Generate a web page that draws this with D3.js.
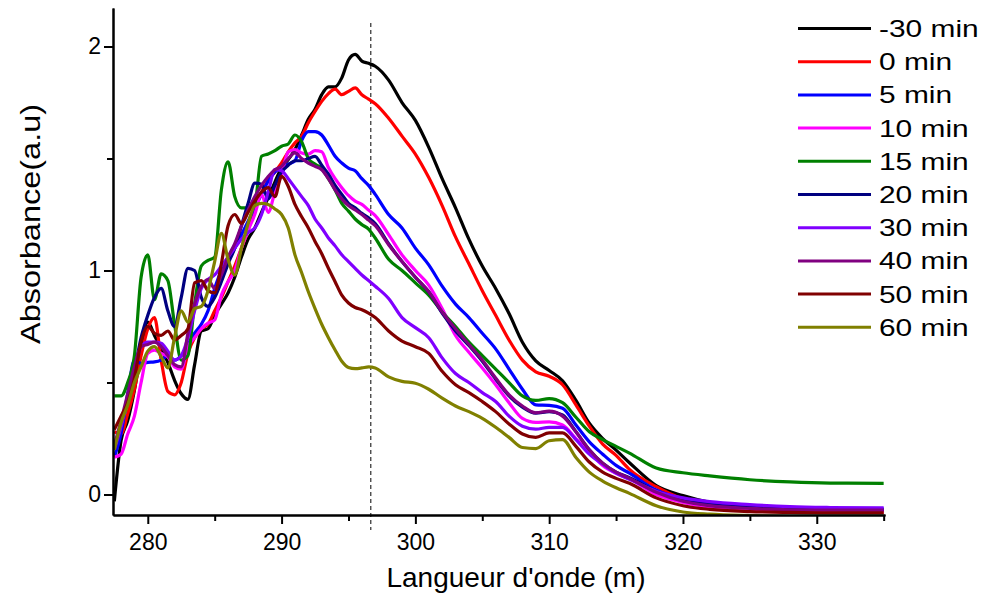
<!DOCTYPE html>
<html>
<head>
<meta charset="utf-8">
<script src="https://cdn.jsdelivr.net/npm/d3@7"></script>
<style>
  body { margin: 0; background: #fff; }
</style>
</head>
<body>
<div id="chart"></div>
<script>
// Wavelength grid (nm) shared by all spectra
var wavelengths = [
  277.5, 278, 278.5, 279, 279.5, 280, 280.5, 281, 281.5, 282, 282.5, 283, 283.5, 284, 284.5,
  285, 285.5, 286, 286.5, 287, 287.5, 288, 288.5, 289, 289.5, 290, 290.5, 291, 291.5, 292,
  292.5, 293, 293.5, 294, 294.5, 295, 295.5, 296, 296.5, 297,
  298, 299, 300, 301, 302, 303, 304, 305, 306, 307, 308, 309, 310, 311, 312, 313, 314, 315, 316,
  318, 320, 322, 325, 328, 331, 335
];

// Absorbance for each time
var absM30 = [
  -0.03, 0.24, 0.33, 0.465, 0.64, 0.77, 0.71, 0.65, 0.59, 0.51, 0.45, 0.425, 0.58, 0.73, 0.74,
  0.80, 0.85, 0.90, 0.97, 1.06, 1.14, 1.19, 1.26, 1.325, 1.395, 1.46, 1.495, 1.54, 1.605, 1.675,
  1.72, 1.785, 1.82, 1.82, 1.86, 1.94, 1.965, 1.935, 1.925, 1.912,
  1.85, 1.75, 1.67, 1.55, 1.41, 1.28, 1.14, 1.02, 0.92, 0.808, 0.68, 0.597, 0.554, 0.508, 0.42, 0.318, 0.25, 0.198, 0.142,
  0.04, -0.005, -0.035, -0.055, -0.063, -0.067, -0.068
];
var abs0 = [
  0.28, 0.27, 0.36, 0.47, 0.62, 0.74, 0.79, 0.60, 0.46, 0.445, 0.50, 0.63, 0.70, 0.74, 0.76,
  0.82, 0.88, 0.95, 1.02, 1.10, 1.18, 1.27, 1.35, 1.40, 1.44, 1.48, 1.53, 1.57, 1.60, 1.66,
  1.71, 1.755, 1.79, 1.81, 1.785, 1.80, 1.815, 1.785, 1.765, 1.745,
  1.68, 1.60, 1.52, 1.415, 1.29, 1.15, 1.03, 0.91, 0.80, 0.69, 0.60, 0.548, 0.528, 0.49, 0.40, 0.305, 0.225, 0.175, 0.112,
  0.035, -0.02, -0.05, -0.07, -0.078, -0.08, -0.08
];
var abs5 = [
  0.167, 0.27, 0.45, 0.60, 0.585, 0.59, 0.592, 0.60, 0.62, 0.60, 0.62, 0.67, 0.72, 0.76, 0.82,
  0.92, 1.00, 1.05, 1.10, 1.16, 1.22, 1.28, 1.34, 1.40, 1.44, 1.46, 1.475, 1.49, 1.58, 1.62,
  1.62, 1.605, 1.56, 1.51, 1.48, 1.457, 1.445, 1.41, 1.38, 1.34,
  1.25, 1.19, 1.10, 1.025, 0.93, 0.85, 0.79, 0.72, 0.65, 0.56, 0.47, 0.40, 0.398, 0.385, 0.31, 0.235, 0.18, 0.13, 0.095,
  0.02, -0.02, -0.04, -0.055, -0.06, -0.063, -0.064
];
var abs10 = [
  0.167, 0.18, 0.27, 0.35, 0.50, 0.63, 0.645, 0.63, 0.615, 0.57, 0.56, 0.66, 0.70, 0.74, 0.765,
  0.78, 0.89, 0.95, 1.00, 1.10, 1.18, 1.25, 1.34, 1.26, 1.35, 1.43, 1.53, 1.54, 1.525, 1.52,
  1.535, 1.53, 1.46, 1.41, 1.37, 1.335, 1.31, 1.295, 1.27, 1.245,
  1.16, 1.07, 1.00, 0.935, 0.83, 0.71, 0.635, 0.565, 0.49, 0.41, 0.34, 0.322, 0.324, 0.31, 0.25, 0.19, 0.13, 0.095, 0.07,
  0.0, -0.035, -0.055, -0.066, -0.071, -0.072, -0.072
];
var abs15 = [
  0.44, 0.44, 0.50, 0.62, 0.97, 1.07, 0.87, 0.985, 0.955, 0.76, 0.60, 0.62, 0.85, 1.02, 1.045,
  1.06, 1.36, 1.485, 1.33, 1.28, 1.28, 1.30, 1.51, 1.52, 1.535, 1.555, 1.565, 1.605, 1.575, 1.50,
  1.475, 1.455, 1.41, 1.36, 1.30, 1.265, 1.23, 1.205, 1.185, 1.145,
  1.05, 1.00, 0.945, 0.89, 0.815, 0.75, 0.68, 0.62, 0.56, 0.50, 0.44, 0.42, 0.428, 0.41, 0.345, 0.28, 0.245, 0.215, 0.185,
  0.118, 0.097, 0.083, 0.066, 0.056, 0.051, 0.05
];
var abs20 = [
  0.20, 0.30, 0.42, 0.55, 0.70, 0.80, 0.88, 0.92, 0.82, 0.75, 0.88, 1.01, 1.00, 0.88, 0.84,
  0.88, 0.95, 1.03, 1.10, 1.20, 1.30, 1.39, 1.385, 1.32, 1.38, 1.44, 1.47, 1.49, 1.49, 1.50,
  1.51, 1.47, 1.43, 1.38, 1.34, 1.30, 1.28, 1.255, 1.235, 1.21,
  1.12, 1.04, 0.97, 0.905, 0.81, 0.73, 0.665, 0.595, 0.515, 0.44, 0.39, 0.363, 0.37, 0.355, 0.28, 0.20, 0.14, 0.10, 0.075,
  0.015, -0.025, -0.045, -0.058, -0.064, -0.067, -0.068
];
var abs30 = [
  0.20, 0.30, 0.42, 0.55, 0.66, 0.68, 0.68, 0.675, 0.64, 0.60, 0.62, 0.70, 0.82, 0.92, 0.96,
  0.98, 1.02, 1.06, 1.10, 1.14, 1.17, 1.19, 1.25, 1.35, 1.45, 1.445, 1.41, 1.37, 1.33, 1.29,
  1.23, 1.19, 1.145, 1.11, 1.07, 1.04, 1.01, 0.98, 0.955, 0.93,
  0.875, 0.79, 0.745, 0.70, 0.61, 0.54, 0.50, 0.455, 0.415, 0.35, 0.305, 0.292, 0.30, 0.30, 0.245, 0.18, 0.135, 0.095, 0.068,
  0.015, -0.015, -0.032, -0.045, -0.054, -0.058, -0.06
];
var abs40 = [
  0.22, 0.33, 0.45, 0.57, 0.66, 0.67, 0.68, 0.66, 0.62, 0.58, 0.57, 0.72, 0.85, 0.93, 0.96,
  0.92, 0.98, 1.06, 1.12, 1.20, 1.27, 1.33, 1.38, 1.42, 1.45, 1.465, 1.50, 1.525, 1.50, 1.48,
  1.465, 1.45, 1.41, 1.36, 1.32, 1.29, 1.27, 1.25, 1.225, 1.20,
  1.115, 1.04, 0.97, 0.905, 0.815, 0.74, 0.67, 0.60, 0.52, 0.445, 0.395, 0.365, 0.372, 0.35, 0.28, 0.20, 0.14, 0.10, 0.072,
  0.01, -0.03, -0.05, -0.062, -0.068, -0.07, -0.07
];
var abs50 = [
  0.29, 0.35, 0.41, 0.52, 0.68, 0.75, 0.72, 0.71, 0.73, 0.69, 0.71, 0.74, 0.945, 0.955, 0.91,
  0.90, 1.03, 1.20, 1.25, 1.21, 1.26, 1.31, 1.35, 1.37, 1.33, 1.42, 1.375, 1.295, 1.24, 1.19,
  1.13, 1.075, 1.01, 0.95, 0.89, 0.855, 0.835, 0.825, 0.81, 0.79,
  0.73, 0.685, 0.66, 0.63, 0.55, 0.49, 0.455, 0.415, 0.37, 0.315, 0.27, 0.255, 0.275, 0.275, 0.215, 0.145, 0.10, 0.072, 0.05,
  -0.015, -0.05, -0.066, -0.076, -0.08, -0.082, -0.082
];
var abs60 = [
  0.20, 0.32, 0.40, 0.50, 0.57, 0.64, 0.66, 0.615, 0.565, 0.70, 0.82, 0.77, 0.83, 0.84, 0.91,
  1.04, 1.166, 1.05, 0.98, 1.10, 1.21, 1.29, 1.30, 1.295, 1.275, 1.25, 1.19, 1.07, 0.99, 0.905,
  0.83, 0.76, 0.70, 0.645, 0.595, 0.567, 0.562, 0.565, 0.57, 0.565,
  0.525, 0.505, 0.497, 0.47, 0.43, 0.395, 0.37, 0.34, 0.30, 0.255, 0.21, 0.205, 0.24, 0.245, 0.165, 0.10, 0.06, 0.03, 0.005,
  -0.05, -0.078, -0.088, -0.094, -0.097, -0.098, -0.098
];

var seriesNames = ["-30 min", "0 min", "5 min", "10 min", "15 min", "20 min", "30 min", "40 min", "50 min", "60 min"];
var seriesValues = [absM30, abs0, abs5, abs10, abs15, abs20, abs30, abs40, abs50, abs60];
var seriesColors = ["#000000", "#ff0000", "#0000ff", "#ff00ff", "#008000", "#000080", "#8000ff", "#800080", "#800000", "#808000"];

var xMajorTicks = [280, 290, 300, 310, 320, 330];
var xMinorTicks = [285, 295, 305, 315, 325, 335];
var yMajorTicks = [0, 1, 2];
var yMinorTicks = [0.5, 1.5];
var markerWavelength = 296.67;

// SVG area
var svgWidth = 989;
var svgHeight = 595;
var plot = { left: 113, right: 885, top: 8, bottom: 515 };

var svg = d3.select("#chart")
    .append("svg")
    .attr("width", svgWidth)
    .attr("height", svgHeight);

var xScale = d3.scaleLinear().domain([277.4, 335.1]).range([plot.left, plot.right]);
var yScale = d3.scaleLinear().domain([-0.0915, 2.172]).range([plot.bottom, plot.top]);

svg.append("clipPath")
    .attr("id", "plotClip")
  .append("rect")
    .attr("x", plot.left)
    .attr("y", plot.top)
    .attr("width", plot.right - plot.left)
    .attr("height", plot.bottom - plot.top);

// dashed marker line
svg.append("line")
    .attr("x1", xScale(markerWavelength))
    .attr("x2", xScale(markerWavelength))
    .attr("y1", 23)
    .attr("y2", 530)
    .attr("stroke", "#000")
    .attr("stroke-width", 1)
    .attr("stroke-dasharray", "4,3");

// spectra
var line = d3.line()
    .x(d => xScale(d[0]))
    .y(d => yScale(d[1]))
    .curve(d3.curveMonotoneX);

var lines = svg.append("g").attr("clip-path", "url(#plotClip)");
seriesValues.forEach(function(vals, i) {
    var pts = wavelengths.map((w, j) => [w, vals[j]]);
    lines.append("path")
        .datum(pts)
        .attr("fill", "none")
        .attr("stroke", seriesColors[i])
        .attr("stroke-width", 3.2)
        .attr("stroke-linejoin", "round")
        .attr("d", line);
});

// axes
var font = "'Liberation Sans', Arial, sans-serif";
var narrowFont = "'Liberation Sans Narrow', 'Arial Narrow', 'Liberation Sans', Arial, sans-serif";

var xMinor = svg.append("g")
    .attr("transform", `translate(0, ${plot.bottom})`)
    .call(d3.axisBottom(xScale).tickValues(xMinorTicks).tickSize(6).tickFormat("").tickSizeOuter(0));
var xMajor = svg.append("g")
    .attr("transform", `translate(0, ${plot.bottom})`)
    .call(d3.axisBottom(xScale).tickValues(xMajorTicks).tickSize(9).tickPadding(10).tickFormat(d3.format("d")).tickSizeOuter(0));

var yMinor = svg.append("g")
    .attr("transform", `translate(${plot.left}, 0)`)
    .call(d3.axisLeft(yScale).tickValues(yMinorTicks).tickSize(6).tickFormat("").tickSizeOuter(0));
var yMajor = svg.append("g")
    .attr("transform", `translate(${plot.left}, 0)`)
    .call(d3.axisLeft(yScale).tickValues(yMajorTicks).tickSize(9).tickPadding(3).tickFormat(d3.format("d")).tickSizeOuter(0));

[xMinor, xMajor, yMinor, yMajor].forEach(function(g) {
    g.selectAll("path, line").attr("stroke", "#000").attr("stroke-width", 2);
    g.selectAll("text")
        .attr("font-family", narrowFont)
        .attr("font-size", "23px")
        .attr("fill", "#000");
});

// axis titles
svg.append("text")
    .attr("x", 516)
    .attr("y", 587)
    .attr("text-anchor", "middle")
    .attr("font-family", font)
    .attr("font-size", "28px")
    .text("Langueur d'onde (m)");

svg.append("text")
    .attr("transform", "translate(40, 224) rotate(-90) scale(1.16, 1)")
    .attr("text-anchor", "middle")
    .attr("font-family", font)
    .attr("font-size", "28px")
    .text("Absorbance(a.u)");

// legend
var legend = svg.append("g").attr("transform", "translate(798, 28.5)");
seriesNames.forEach(function(name, i) {
    var row = legend.append("g").attr("transform", `translate(0, ${i * 33.2})`);
    row.append("line")
        .attr("x1", 0)
        .attr("x2", 73)
        .attr("stroke", seriesColors[i])
        .attr("stroke-width", 3);
    row.append("text")
        .attr("transform", "translate(81, 8.5) scale(1.3, 1)")
        .attr("font-family", font)
        .attr("font-size", "23px")
        .text(name);
});
</script>
</body>
</html>
